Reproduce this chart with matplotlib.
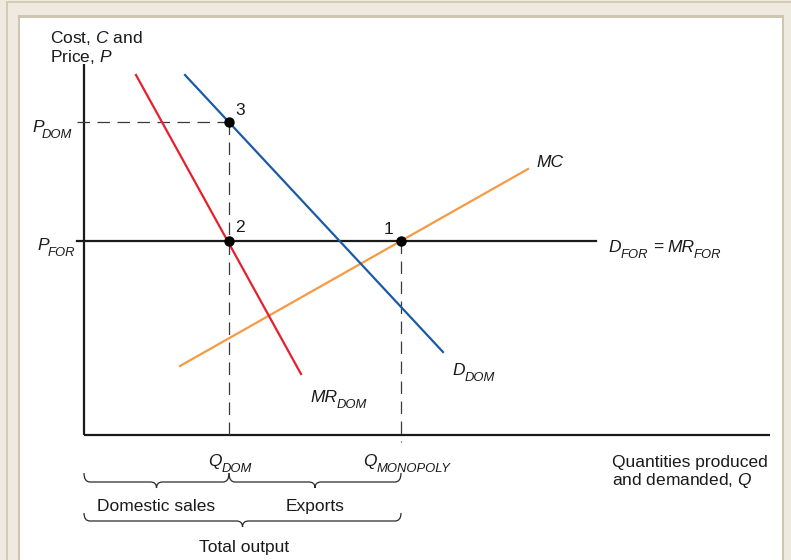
import matplotlib
matplotlib.use("Agg")
import matplotlib.pyplot as plt
from matplotlib.patches import Rectangle, PathPatch
from matplotlib.path import Path

plt.rcParams['font.family'] = ['Liberation Sans', 'DejaVu Sans']
plt.rcParams['mathtext.fontset'] = 'custom'
plt.rcParams['mathtext.it'] = 'Liberation Sans:italic'
plt.rcParams['mathtext.rm'] = 'Liberation Sans'
plt.rcParams['mathtext.sf'] = 'Liberation Sans'

# ---- data (x = quantity, y = price/cost) ----
x_axis_max = 686
y_axis_max = 371
mr_dom_x = [52, 217]
mr_dom_y = [360, 61]
d_dom_x = [101, 359]
d_dom_y = [360, 83]
mc_x = [96, 444]
mc_y = [69, 266]
d_for_end = 512
p_for = 194
p_dom = 313
q_dom = 145
q_mon = 317
point_labels = ['3', '2', '1']
point_x = [q_dom, q_dom, q_mon]
point_y = [p_dom, p_for, p_for]

W, H = 791, 560
fig = plt.figure(figsize=(W / 100, H / 100), dpi=100)
fig.patch.set_facecolor('#eeeadf')


def frect(x0, y0, x1, y1, **kw):
    fig.add_artist(Rectangle((x0 / W, 1 - y1 / H), (x1 - x0) / W, (y1 - y0) / H,
                             transform=fig.transFigure, zorder=-10, **kw))


frect(6, 1, 8, 560, facecolor='#d3cab8', edgecolor='none')
frect(6, 1, 791, 3, facecolor='#d3cab8', edgecolor='none')
frect(18, 15, 784, 562, facecolor='#cfc5b1', edgecolor='none')
frect(20, 18, 782, 562, facecolor='white', edgecolor='none')

ax = fig.add_axes([0, 0, 1, 1])
ax.set_zorder(1)
ax.set_xlim(-84, W - 84)
ax.set_ylim(435 - H, 435)
ax.axis('off')
ax.patch.set_alpha(0)

black = '#1a1a1a'
# axes
ax.plot([0, 0], [0, y_axis_max], color=black, lw=1.6, solid_capstyle='butt')
ax.plot([0, x_axis_max], [0, 0], color=black, lw=1.6, solid_capstyle='butt')

# dashed guides
dash = dict(color='#3a3a3a', lw=0.9, ls=(0, (10, 6)))
ax.plot([-7, q_dom], [p_dom, p_dom], **dash)
ax.plot([q_dom, q_dom], [p_dom, -7], **dash)
ax.plot([q_mon, q_mon], [p_for, -7], **dash)

# D_FOR = MR_FOR
ax.plot([-7, d_for_end], [p_for, p_for], color=black, lw=1.6)

# curves
ax.plot(mc_x, mc_y, color='#f59a45', lw=1.6)
ax.plot(mr_dom_x, mr_dom_y, color='#e5202e', lw=1.6)
ax.plot(d_dom_x, d_dom_y, color='#1b5aa6', lw=1.6)

# points
ax.plot(point_x, point_y, 'o', color='black', ms=6.5, zorder=5)
fs = 12.5
sfs = 9.4
ax.text(151, 320, point_labels[0], fontsize=fs, va='baseline', color=black)
ax.text(151, 203, point_labels[1], fontsize=fs, va='baseline', color=black)
ax.text(300, 201, point_labels[2], fontsize=fs, va='baseline', color=black)


def it(x, y, s, size=fs):
    ax.text(x, y, s, fontsize=size, style='italic', va='baseline', color=black)


def sub(x, y, main, subtxt, xs, drop=6):
    it(x, y, main)
    it(xs, y - drop, subtxt, sfs)


# labels
ax.text(-34, 392, 'Cost, $C$ and', fontsize=fs, va='baseline', color=black)
ax.text(-34, 373, 'Price, $P$', fontsize=fs, va='baseline', color=black)
sub(-52, 303, 'P', 'DOM', -42)
sub(-47, 185, 'P', 'FOR', -36)
it(452, 268, 'MC')
sub(524, 183, 'D', 'FOR', 537)
ax.text(569, 183, '=', fontsize=fs, va='baseline', color=black)
sub(583, 183, 'MR', 'FOR', 610)
sub(368, 60, 'D', 'DOM', 381)
sub(226, 33, 'MR', 'DOM', 253)
sub(124, -31, 'Q', 'DOM', 138)
sub(279, -31, 'Q', 'MONOPOLY', 293)
ax.text(528, -32, 'Quantities produced', fontsize=fs, va='baseline', color=black)
ax.text(528, -50, 'and demanded, $Q$', fontsize=fs, va='baseline', color=black)


def brace(x0, x1, ytop, yl, ytip, r=6):
    xm = (x0 + x1) / 2
    verts = [(x0, ytop), (x0, yl), (x0 + r, yl),
             (xm - r, yl),
             (xm, yl), (xm, ytip),
             (xm, yl), (xm + r, yl),
             (x1 - r, yl),
             (x1, yl), (x1, ytop)]
    codes = [Path.MOVETO, Path.CURVE3, Path.CURVE3,
             Path.LINETO,
             Path.CURVE3, Path.CURVE3,
             Path.CURVE3, Path.CURVE3,
             Path.LINETO,
             Path.CURVE3, Path.CURVE3]
    ax.add_patch(PathPatch(Path(verts, codes), facecolor='none',
                           edgecolor='#2a2a2a', lw=0.9))
    return xm


m1 = brace(0, q_dom, -38, -47, -53)
m2 = brace(q_dom, q_mon, -38, -47, -53)
m3 = brace(0, q_mon, -78, -86, -92)
ax.text(m1, -76, 'Domestic sales', fontsize=fs, va='baseline', ha='center', color=black)
ax.text(m2, -76, 'Exports', fontsize=fs, va='baseline', ha='center', color=black)
ax.text(m3 + 2, -117, 'Total output', fontsize=fs, va='baseline', ha='center', color=black)

fig.savefig('out.png', dpi=100)
